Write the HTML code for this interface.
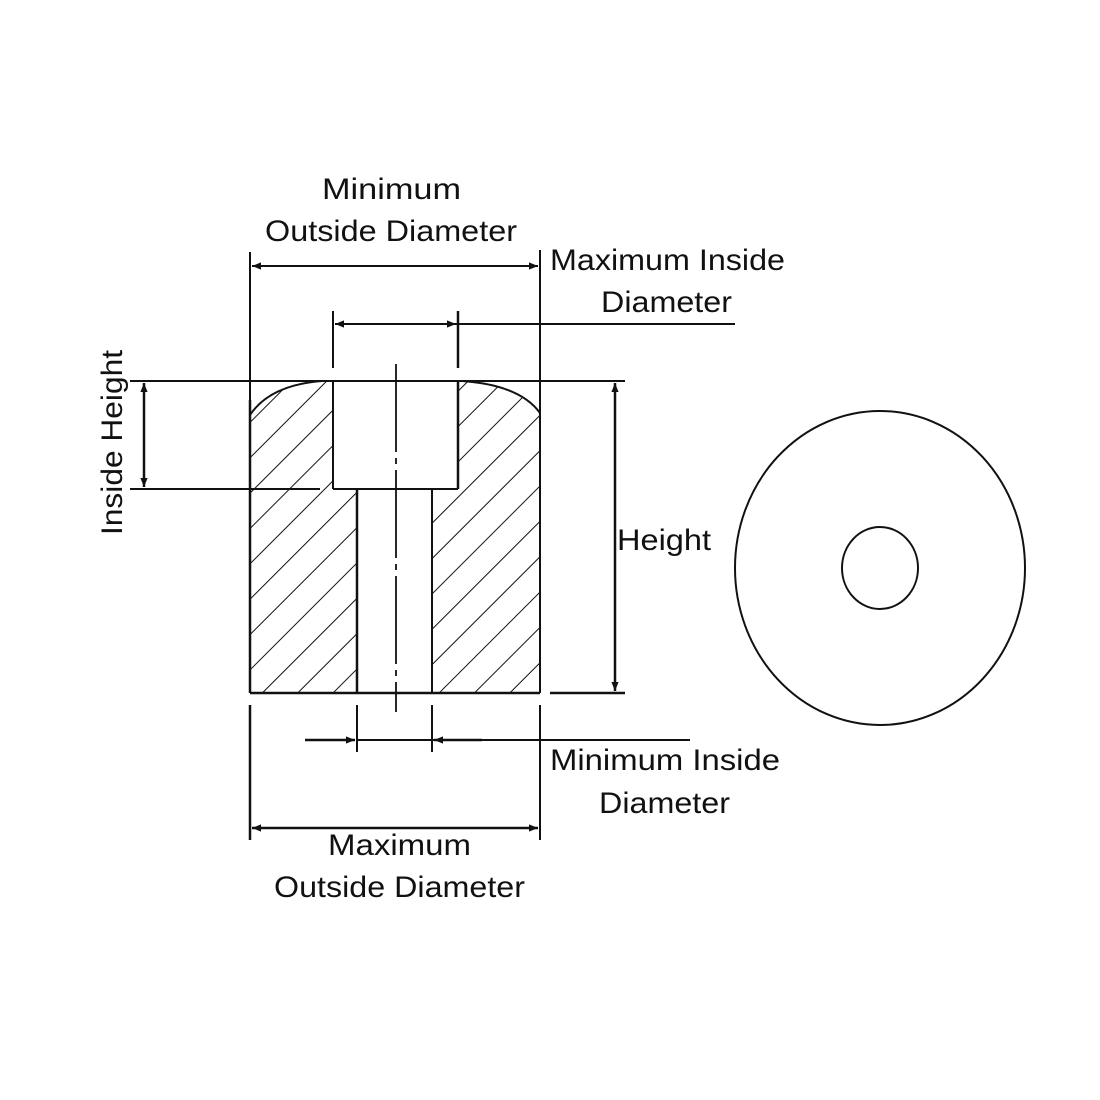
<!DOCTYPE html>
<html><head><style>html,body{margin:0;padding:0;background:#fff}svg{display:block}</style></head>
<body>
<svg width="1100" height="1100" viewBox="0 0 1100 1100" xmlns="http://www.w3.org/2000/svg">
<defs>
<pattern id="h" patternUnits="userSpaceOnUse" width="25" height="25" patternTransform="rotate(45)">
<line x1="0" y1="-2" x2="0" y2="27" stroke="#111" stroke-width="2"/>
</pattern>
<marker id="a" viewBox="0 0 10 10" refX="10" refY="5" markerWidth="24" markerHeight="9" markerUnits="userSpaceOnUse" orient="auto-start-reverse"><path d="M0,1 L10,5 L0,9 Z" fill="#111"/></marker>
</defs>
<g stroke="#111" stroke-width="2" fill="none">
<path d="M250,415 Q270,385 322,381 L333,381 L333,489 L357,489 L357,693 L250,693 Z" fill="url(#h)" stroke="none"/>
<path d="M458,381 L462,381 Q520,385 540,413 L540,693 L432,693 L432,489 L458,489 Z" fill="url(#h)" stroke="none"/>
<path d="M250,415 Q270,385 322,381" />
<path d="M462,381 Q520,385 540,413"/>
<line x1="250" y1="400" x2="250" y2="693" stroke-width="2.5"/>
<line x1="540" y1="400" x2="540" y2="693"/>
<line x1="250" y1="693" x2="540" y2="693" stroke-width="2.5"/>
<line x1="333" y1="381" x2="333" y2="489"/>
<line x1="458" y1="381" x2="458" y2="489" stroke-width="2.5"/>
<line x1="333" y1="489" x2="458" y2="489"/>
<line x1="357" y1="489" x2="357" y2="693" stroke-width="2.5"/>
<line x1="432" y1="489" x2="432" y2="693"/>
<line x1="396" y1="364" x2="396" y2="712" stroke-width="1.8" stroke-dasharray="88 6 6 6"/>
<line x1="130" y1="381" x2="625" y2="381"/>
<line x1="130" y1="489" x2="320" y2="489"/>
<line x1="144" y1="383" x2="144" y2="487" stroke-width="2.5" marker-start="url(#a)" marker-end="url(#a)"/>
<line x1="550" y1="693" x2="625" y2="693" stroke-width="2.5"/>
<line x1="615" y1="383" x2="615" y2="691" stroke-width="2.5" marker-start="url(#a)" marker-end="url(#a)"/>
<line x1="250" y1="252" x2="250" y2="400"/>
<line x1="540" y1="250" x2="540" y2="400"/>
<line x1="252" y1="266" x2="538" y2="266" marker-start="url(#a)" marker-end="url(#a)"/>
<line x1="333" y1="311" x2="333" y2="368"/>
<line x1="458" y1="311" x2="458" y2="368" stroke-width="2.5"/>
<line x1="335" y1="324" x2="456" y2="324" marker-start="url(#a)" marker-end="url(#a)"/>
<line x1="456" y1="324" x2="735" y2="324"/>
<line x1="250" y1="705" x2="250" y2="840" stroke-width="2.5"/>
<line x1="540" y1="705" x2="540" y2="840"/>
<line x1="357" y1="705" x2="357" y2="752"/>
<line x1="432" y1="705" x2="432" y2="752"/>
<line x1="305" y1="740" x2="355" y2="740" stroke-width="2.5" marker-end="url(#a)"/>
<line x1="482" y1="740" x2="434" y2="740" stroke-width="2.5" marker-end="url(#a)"/>
<line x1="357" y1="740" x2="690" y2="740"/>
<line x1="252" y1="828" x2="538" y2="828" stroke-width="2.5" marker-start="url(#a)" marker-end="url(#a)"/>
<ellipse cx="880" cy="568" rx="145" ry="157"/>
<ellipse cx="880" cy="568" rx="38" ry="41"/>
</g>
<g font-family="Liberation Sans, sans-serif" font-size="30" fill="#111">
<text x="322" y="199" textLength="139" lengthAdjust="spacingAndGlyphs">Minimum</text>
<text x="265" y="241" textLength="252" lengthAdjust="spacingAndGlyphs">Outside Diameter</text>
<text x="550" y="270" textLength="235" lengthAdjust="spacingAndGlyphs">Maximum Inside</text>
<text x="601" y="312" textLength="131" lengthAdjust="spacingAndGlyphs">Diameter</text>
<text x="617" y="550" textLength="94" lengthAdjust="spacingAndGlyphs">Height</text>
<text x="550" y="770" textLength="230" lengthAdjust="spacingAndGlyphs">Minimum Inside</text>
<text x="599" y="813" textLength="131" lengthAdjust="spacingAndGlyphs">Diameter</text>
<text x="328" y="855" textLength="143" lengthAdjust="spacingAndGlyphs">Maximum</text>
<text x="274" y="897" textLength="251" lengthAdjust="spacingAndGlyphs">Outside Diameter</text>
<text transform="translate(122,535) rotate(-90)" textLength="185" lengthAdjust="spacingAndGlyphs">Inside Height</text>
</g>
</svg>
</body></html>
